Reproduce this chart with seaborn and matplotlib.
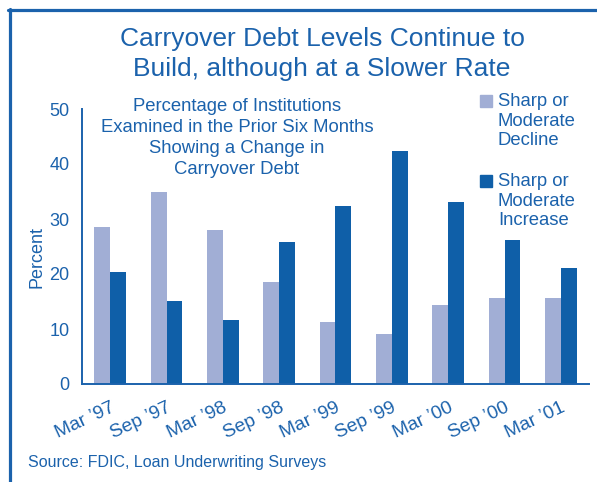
import matplotlib
matplotlib.use('Agg')
import matplotlib.pyplot as plt
import matplotlib.lines as mlines
import matplotlib.patches as mpatches
import matplotlib.transforms as mtransforms
import pandas as pd
import seaborn as sns

# data
periods = ['Mar \u201997', 'Sep \u201997', 'Mar \u201998', 'Sep \u201998', 'Mar \u201999',
           'Sep \u201999', 'Mar \u201900', 'Sep \u201900', 'Mar \u201901']
decline = [28.5, 34.9, 28.0, 18.5, 11.3, 9.1, 14.4, 15.6, 15.6]
increase = [20.4, 15.1, 11.6, 25.8, 32.4, 42.4, 33.1, 26.2, 21.1]
series_names = ['Sharp or\nModerate\nDecline', 'Sharp or\nModerate\nIncrease']

blue = '#1B62AC'
light = '#A1AED5'
dark = '#0F5FA8'

df = pd.DataFrame({
    'period': periods * 2,
    'value': decline + increase,
    'series': [series_names[0]] * len(periods) + [series_names[1]] * len(periods),
})

sns.set_style('white')
plt.rcParams['font.family'] = ['Liberation Sans', 'DejaVu Sans']

fig = plt.figure(figsize=(5.97, 4.82), dpi=100)
ax = fig.add_axes([82 / 597, 98 / 482, 507 / 597, 275 / 482])

sns.barplot(data=df, x='period', y='value', hue='series', order=periods,
            hue_order=series_names, palette=[light, dark], width=0.56,
            saturation=1, gap=0, legend=False, linewidth=0, ax=ax)

ax.set_xlim(-0.5, len(periods) - 0.5)
ax.set_ylim(0, 50)
ax.set_yticks([0, 10, 20, 30, 40, 50])
ax.set_xticks(range(len(periods)))
ax.set_xticklabels(periods, rotation=25, ha='right', rotation_mode='anchor')
# labels in the original sit a bit tighter than the categories
for i, lab in enumerate(ax.get_xticklabels()):
    shift = mtransforms.ScaledTranslation((11 - 2.1 * i) / 100, 0, fig.dpi_scale_trans)
    lab.set_transform(lab.get_transform() + shift)
ax.set_xticks([i - 0.5 for i in range(len(periods) + 1)], minor=True)
ax.tick_params(axis='x', which='major', length=0, pad=11, labelsize=13.8, labelcolor=blue)
ax.tick_params(axis='x', which='minor', length=6, width=1.3, color=blue, direction='out')
ax.tick_params(axis='y', length=6, width=1.3, color=blue, direction='out',
               labelsize=13, labelcolor=blue, pad=3)
ax.set_xlabel('')
ax.set_ylabel('Percent', fontsize=13, color=blue)
ax.yaxis.set_label_coords(-0.072, 0.46)

for s in ['top', 'right']:
    ax.spines[s].set_visible(False)
for s in ['left', 'bottom']:
    ax.spines[s].set_color(blue)
    ax.spines[s].set_linewidth(1.4)

# annotation
fig.text(237 / 597, 1 - 98 / 482, 'Percentage of Institutions\nExamined in the Prior Six Months\n'
         'Showing a Change in\nCarryover Debt',
         ha='center', va='top', fontsize=13.3, color=blue, linespacing=1.3)

# legend drawn by hand so the square sits at the first line
for i, (name, col) in enumerate(zip(series_names, [light, dark])):
    ytop = 1 - (95 + i * 80) / 482
    fig.patches.append(mpatches.Rectangle((480 / 597, ytop - 12 / 482), 12 / 597, 12 / 482,
                                          transform=fig.transFigure, color=col))
    fig.text(498 / 597, ytop + 2 / 482, name, ha='left', va='top', fontsize=13.3,
             color=blue, linespacing=1.2)

fig.text(322 / 597, 1 - 27 / 482, 'Carryover Debt Levels Continue to\nBuild, although at a Slower Rate',
         ha='center', va='top', fontsize=19, color=blue, linespacing=1.3)
fig.text(28 / 597, 1 - 463 / 482, 'Source: FDIC, Loan Underwriting Surveys',
         ha='left', va='center', fontsize=11.5, color=blue)

# frame
fig.add_artist(mlines.Line2D([8 / 597, 1], [1 - 10 / 482, 1 - 10 / 482],
                             transform=fig.transFigure, color=blue, linewidth=2.3))
fig.add_artist(mlines.Line2D([9.5 / 597, 9.5 / 597], [0, 1 - 9 / 482],
                             transform=fig.transFigure, color=blue, linewidth=2.3))

fig.savefig('out.png', dpi=100)
